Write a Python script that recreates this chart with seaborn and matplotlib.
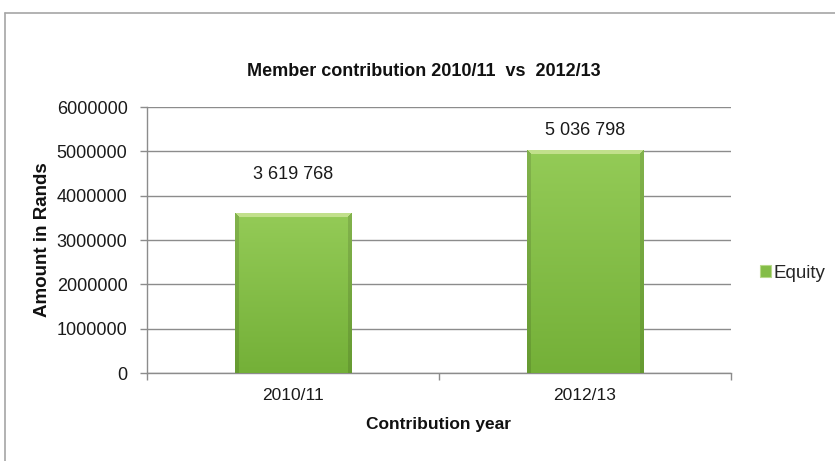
import numpy as np
import pandas as pd
import matplotlib
matplotlib.use("Agg")
import matplotlib.pyplot as plt
from matplotlib.patches import Rectangle
from matplotlib.lines import Line2D
import seaborn as sns

# Chart data
years = ["2010/11", "2012/13"]
amounts = [3619768, 5036798]
series_name = "Equity"
y_ticks = [0, 1000000, 2000000, 3000000, 4000000, 5000000, 6000000]
# label offsets above each bar (points)
label_offsets = [21, 8]

sns.set_theme(style="white")
plt.rcParams["font.family"] = ["Liberation Sans", "DejaVu Sans"]

W, H, DPI = 835, 461, 100
fig = plt.figure(figsize=(W / DPI, H / DPI), dpi=DPI)
fig.patch.set_facecolor("white")

# outer chart frame (top and left edges visible)
fig.add_artist(Line2D([5 / W, 5 / W], [0, 1 - 13 / H], transform=fig.transFigure,
                      color="#a6a6a6", lw=1.2))
fig.add_artist(Line2D([5 / W, 1], [1 - 13 / H, 1 - 13 / H], transform=fig.transFigure,
                      color="#a6a6a6", lw=1.2))

left, right = 147 / W, 731 / W
bottom, top = 1 - 373 / H, 1 - 107 / H
ax = fig.add_axes([left, bottom, right - left, top - bottom])

df = pd.DataFrame({"year": years, "amount": amounts})
sns.barplot(data=df, x="year", y="amount", ax=ax, color="#84bd47",
            width=0.4, saturation=1, zorder=3)

ax.set_xlim(-0.5, 1.5)
ax.set_ylim(0, 6000000)

# bevelled gradient fill for each bar
ax_h_px = 373 - 107
ax_w_px = 731 - 147
for patch in ax.patches:
    x0, w, h = patch.get_x(), patch.get_width(), patch.get_height()
    hp = max(int(round(h / 6000000 * ax_h_px)), 2)
    wp = max(int(round(w / 2.0 * ax_w_px)), 2)
    rows = np.arange(hp)[:, None] * np.ones((1, wp))
    cols = np.ones((hp, 1)) * np.arange(wp)[None, :]
    t = rows / max(hp - 1, 1)
    top_c = np.array([0x94, 0xcb, 0x57]) / 255
    bot_c = np.array([0x74, 0xb0, 0x38]) / 255
    img = top_c[None, None, :] * (1 - t[..., None]) + bot_c[None, None, :] * t[..., None]
    b = 5
    dl = cols
    dr = wp - 1 - cols
    dt = rows
    side = np.minimum(dl, dr)
    top_mask = (dt < b) & (dt <= side)
    side_mask = (side < b - 1) & ~top_mask
    light = np.array([0xc2, 0xe0, 0x8c]) / 255
    img[top_mask] = light
    img[side_mask] = img[side_mask] * 0.88
    im = ax.imshow(img, extent=(x0, x0 + w, 0, h), aspect="auto",
                   origin="upper", zorder=4, interpolation="bilinear")
    im.set_clip_path(patch)
    patch.set_edgecolor("none")

ax.set_xlim(-0.5, 1.5)
ax.set_ylim(0, 6000000)

# value labels
for i, (v, off) in enumerate(zip(amounts, label_offsets)):
    txt = f"{v:,}".replace(",", " ")
    ax.annotate(txt, xy=(i, v), xytext=(0, off), textcoords="offset points",
                ha="center", va="bottom", fontsize=13, color="#1a1a1a", zorder=6)

# gridlines and axes
ax.set_yticks(y_ticks)
ax.set_yticklabels([str(v) for v in y_ticks])
ax.yaxis.grid(True, color="#8c8c8c", lw=1)
ax.xaxis.grid(False)
ax.set_axisbelow(True)
for s in ["top", "right"]:
    ax.spines[s].set_visible(False)
for s in ["left", "bottom"]:
    ax.spines[s].set_color("#8c8c8c")
    ax.spines[s].set_linewidth(1)

ax.tick_params(axis="y", which="major", length=5, width=1, color="#8c8c8c",
               direction="out", left=True, labelsize=13, labelcolor="#1a1a1a", pad=9)
ax.set_xticks([0, 1])
ax.set_xticks([-0.5, 0.5, 1.5], minor=True)
ax.tick_params(axis="x", which="major", length=0, labelsize=12.5,
               labelcolor="#1a1a1a", pad=11)
ax.tick_params(axis="x", which="minor", length=5, width=1, color="#8c8c8c",
               direction="out", bottom=True)

ax.set_xlabel("Contribution year", fontsize=12.5, fontweight="bold",
              color="#111111", labelpad=10)
ax.set_ylabel("Amount in Rands", fontsize=13.5, fontweight="bold",
              color="#111111", labelpad=4)

fig.text(424 / W, 1 - 72 / H, "Member contribution 2010/11  vs  2012/13",
         ha="center", va="center", fontsize=13, fontweight="bold", color="#111111")

# legend
handle = Rectangle((0, 0), 1, 1, facecolor="#84bd47", edgecolor="#b8d98a", lw=0.8)
fig.legend([handle], [series_name], loc="center left",
           bbox_to_anchor=(760 / W, 1 - 273 / H), frameon=False, fontsize=13.5,
           handlelength=0.6, handleheight=0.6, handletextpad=0.1, borderaxespad=0,
           borderpad=0)

fig.savefig("out.png", dpi=DPI, facecolor="white")
